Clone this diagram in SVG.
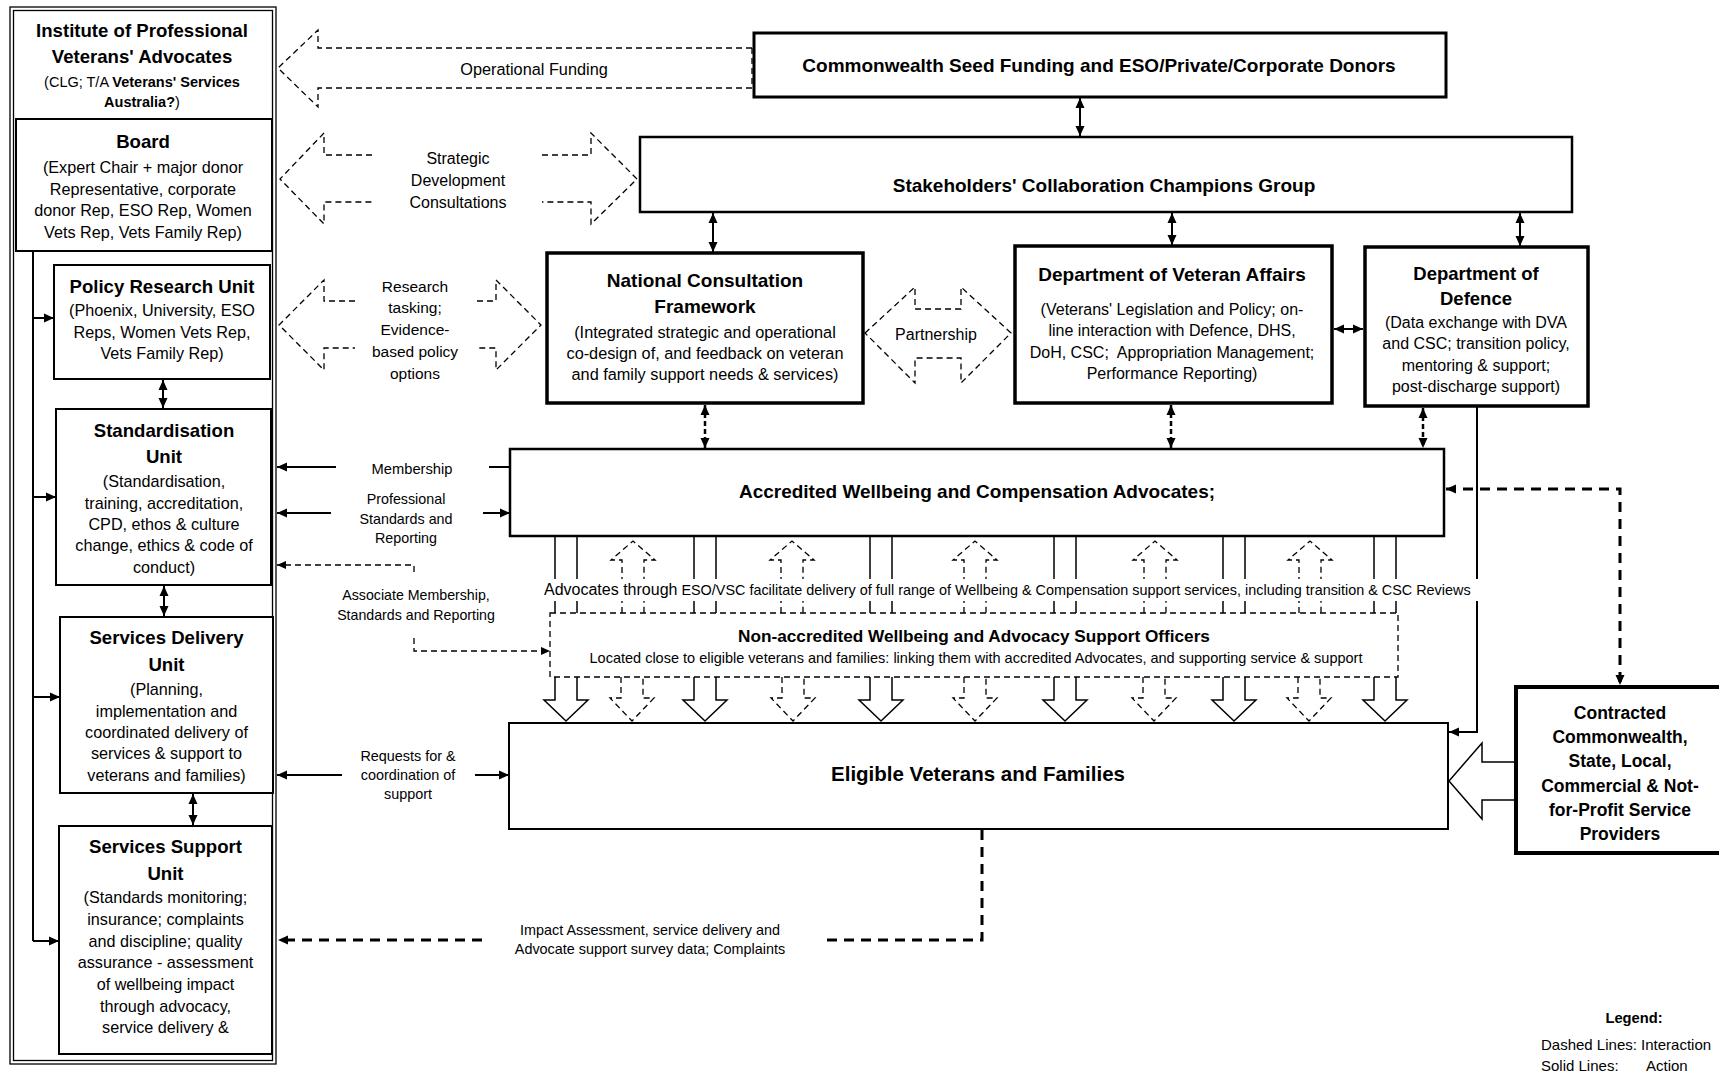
<svg xmlns="http://www.w3.org/2000/svg" width="1719" height="1075" viewBox="0 0 1719 1075">
<defs>
<marker id="a" viewBox="0 0 10 10" refX="10" refY="5" markerWidth="10" markerHeight="10" markerUnits="userSpaceOnUse" orient="auto-start-reverse"><path d="M0,0.5 L10,5 L0,9.5 z" fill="#000"/></marker>
<marker id="as" viewBox="0 0 10 10" refX="10" refY="5" markerWidth="9" markerHeight="9" markerUnits="userSpaceOnUse" orient="auto-start-reverse"><path d="M0,0.5 L10,5 L0,9.5 z" fill="#000"/></marker>
<style>
.t{font-family:"Liberation Sans",Arial,sans-serif;fill:#000}
.b{font-weight:bold}
.c{text-anchor:middle}
.box{fill:#fff;stroke:#000}
.ln{stroke:#000;stroke-width:2;fill:none}
.th{stroke:#000;stroke-width:1.5;fill:none}
.hd{stroke:#000;stroke-width:1.3;stroke-dasharray:6 4;fill:none}
.hdw{stroke:#000;stroke-width:1.3;stroke-dasharray:6 4;fill:#fff}
.dk{stroke:#000;stroke-width:3;stroke-dasharray:10 7;fill:none}
.dm{stroke:#000;stroke-width:2.5;stroke-dasharray:5 3;fill:none}
.ha{stroke:#000;stroke-width:1.5;fill:#fff}
</style>
</defs>
<rect width="1719" height="1075" fill="#fff"/>

<g id="connectors">
  <!-- left column internal -->
  <path class="ln" d="M33,251 V941" stroke-width="2.5"/>
  <line class="ln" x1="33" y1="318" x2="54" y2="318" marker-end="url(#a)"/>
  <line class="ln" x1="33" y1="497" x2="56" y2="497" marker-end="url(#a)"/>
  <line class="ln" x1="33" y1="697" x2="60" y2="697" marker-end="url(#a)"/>
  <line class="ln" x1="33" y1="941" x2="59" y2="941" marker-end="url(#a)"/>
  <line class="ln" x1="163" y1="380" x2="163" y2="408" marker-start="url(#a)" marker-end="url(#a)"/>
  <line class="ln" x1="164" y1="586" x2="164" y2="616" marker-start="url(#a)" marker-end="url(#a)"/>
  <line class="ln" x1="193" y1="794" x2="193" y2="825" marker-start="url(#a)" marker-end="url(#a)"/>

  <!-- hollow dashed arrows -->
  <path class="hd" d="M752,48 H318 V30 L278,68 L318,107 V88 H752 Z"/>
  <path class="hd" d="M372,155 H324 V133 L280,179 L324,224 V202 H372"/>
  <path class="hd" d="M542,155 H591 V133 L637,179 L591,224 V202 H542"/>
  <path class="hd" d="M355,301 H324 V280 L279,325 L324,370 V348 H355"/>
  <path class="hd" d="M477,301 H496 V280 L541,325 L496,370 V348 H477"/>
  <path class="hd" d="M865,333 L915,287 V309 H961 V287 L1011,333 L961,383 V358 H915 V383 Z"/>

  <!-- top solid double arrows -->
  <line class="ln" x1="1080" y1="98" x2="1080" y2="136" marker-start="url(#a)" marker-end="url(#a)"/>
  <line class="ln" x1="713" y1="213" x2="713" y2="252" marker-start="url(#a)" marker-end="url(#a)"/>
  <line class="ln" x1="1172" y1="213" x2="1172" y2="245" marker-start="url(#a)" marker-end="url(#a)"/>
  <line class="ln" x1="1520" y1="213" x2="1520" y2="246" marker-start="url(#a)" marker-end="url(#a)"/>
  <line class="ln" x1="1334" y1="329" x2="1363" y2="329" stroke-width="2.5" marker-start="url(#a)" marker-end="url(#a)"/>

  <!-- dashed double arrows to Accredited -->
  <line class="dm" x1="705" y1="405" x2="705" y2="448" marker-start="url(#a)" marker-end="url(#a)"/>
  <line class="dm" x1="1171" y1="405" x2="1171" y2="448" marker-start="url(#a)" marker-end="url(#a)"/>
  <line class="dm" x1="1423" y1="408" x2="1423" y2="448" marker-start="url(#a)" marker-end="url(#a)"/>

  <!-- Membership / standards -->
  <line class="ln" x1="489" y1="467" x2="510" y2="467"/>
  <line class="ln" x1="336" y1="467" x2="277" y2="467" marker-end="url(#a)"/>
  <line class="ln" x1="331" y1="513" x2="277" y2="513" marker-end="url(#a)"/>
  <line class="ln" x1="483" y1="513" x2="510" y2="513" marker-end="url(#a)"/>
  <path class="hd" d="M414,572 V565 H277" marker-end="url(#as)"/>
  <path class="hd" d="M414,638 V651 H550" marker-end="url(#as)"/>

  <!-- solid pair lines between Accredited and Non-accredited -->
  <g class="th">
    <line x1="555" y1="536" x2="555" y2="613"/><line x1="577" y1="536" x2="577" y2="613"/>
    <line x1="694" y1="536" x2="694" y2="613"/><line x1="716" y1="536" x2="716" y2="613"/>
    <line x1="870" y1="536" x2="870" y2="613"/><line x1="892" y1="536" x2="892" y2="613"/>
    <line x1="1054" y1="536" x2="1054" y2="613"/><line x1="1076" y1="536" x2="1076" y2="613"/>
    <line x1="1223" y1="536" x2="1223" y2="613"/><line x1="1245" y1="536" x2="1245" y2="613"/>
    <line x1="1374" y1="536" x2="1374" y2="613"/><line x1="1396" y1="536" x2="1396" y2="613"/>
  </g>
  <!-- dashed hollow up arrows -->
  <path class="hd" d="M622,613 V560 H611 L633,541 L655,560 H644 V613"/>
  <path class="hd" d="M781,613 V560 H770 L792,541 L814,560 H803 V613"/>
  <path class="hd" d="M964,613 V560 H953 L975,541 L997,560 H986 V613"/>
  <path class="hd" d="M1144,613 V560 H1133 L1155,541 L1177,560 H1166 V613"/>
  <path class="hd" d="M1299,613 V560 H1288 L1310,541 L1332,560 H1321 V613"/>

  <!-- Defence solid line to Eligible -->
  <path class="ln" d="M1477,406 V732 H1449" marker-end="url(#a)"/>
  <!-- Accredited <-> Contracted dashed -->
  <path class="dk" d="M1446,489 H1620 V685" marker-start="url(#a)" marker-end="url(#a)"/>

  <!-- solid hollow down arrows -->
  <path class="ha" d="M555,677 V700 H544 L566,721 L588,700 H577 V677"/>
  <path class="ha" d="M694,677 V700 H683 L705,721 L727,700 H716 V677"/>
  <path class="ha" d="M870,677 V700 H859 L881,721 L903,700 H892 V677"/>
  <path class="ha" d="M1054,677 V700 H1043 L1065,721 L1087,700 H1076 V677"/>
  <path class="ha" d="M1223,677 V700 H1212 L1234,721 L1256,700 H1245 V677"/>
  <path class="ha" d="M1374,677 V700 H1363 L1385,721 L1407,700 H1396 V677"/>
  <!-- dashed hollow down arrows -->
  <path class="hd" d="M621,677 V698 H610 L632,721 L654,698 H643 V677"/>
  <path class="hd" d="M782,677 V698 H771 L793,721 L815,698 H804 V677"/>
  <path class="hd" d="M964,677 V698 H953 L975,721 L997,698 H986 V677"/>
  <path class="hd" d="M1143,677 V698 H1132 L1154,721 L1176,698 H1165 V677"/>
  <path class="hd" d="M1298,677 V698 H1287 L1309,721 L1331,698 H1320 V677"/>

  <!-- Requests -->
  <line class="ln" x1="342" y1="775" x2="277" y2="775" marker-end="url(#a)"/>
  <line class="ln" x1="475" y1="775" x2="509" y2="775" marker-end="url(#a)"/>
  <!-- Impact -->
  <path class="dk" d="M982,830 V940 H824"/>
  <path class="dk" d="M482,940 H278" marker-end="url(#a)"/>

  <!-- Contracted -> Eligible hollow arrow -->
  <path class="ha" d="M1516,762 H1482 V743 L1449,781 L1482,819 V800 H1516"/>
</g>

<g id="node-frame">
  <rect x="10" y="7" width="266" height="1057" fill="none" stroke="#000" stroke-width="1.3"/>
  <rect x="13.5" y="10.5" width="259" height="1050" fill="none" stroke="#000" stroke-width="1.3"/>
</g>
<g id="node-institute" class="t c">
  <text x="142" y="37" class="b" font-size="18.6">Institute of Professional</text>
  <text x="142" y="63" class="b" font-size="18.6">Veterans' Advocates</text>
  <text x="142" y="87" font-size="14.5">(CLG; T/A <tspan class="b">Veterans' Services</tspan></text>
  <text x="142" y="107" font-size="14.5"><tspan class="b">Australia?</tspan>)</text>
</g>
<g id="node-board">
  <rect class="box" x="16" y="119" width="256" height="132" stroke-width="2"/>
  <g class="t c">
    <text x="143" y="148" class="b" font-size="18.6">Board</text>
    <text x="143" y="173" font-size="16.2">(Expert Chair + major donor</text>
    <text x="143" y="194.5" font-size="16.2">Representative, corporate</text>
    <text x="143" y="216" font-size="16.2">donor Rep, ESO Rep, Women</text>
    <text x="143" y="237.5" font-size="16.2">Vets Rep, Vets Family Rep)</text>
  </g>
</g>
<g id="node-policy">
  <rect class="box" x="54" y="265" width="216" height="114" stroke-width="2"/>
  <g class="t c">
    <text x="162" y="293" class="b" font-size="18.6">Policy Research Unit</text>
    <text x="162" y="316" font-size="16.2">(Phoenix, University, ESO</text>
    <text x="162" y="338" font-size="16.2">Reps, Women Vets Rep,</text>
    <text x="162" y="359" font-size="16.2">Vets Family Rep)</text>
  </g>
</g>
<g id="node-standardisation">
  <rect class="box" x="56" y="409" width="215" height="176" stroke-width="2"/>
  <g class="t c">
    <text x="164" y="437" class="b" font-size="18.6">Standardisation</text>
    <text x="164" y="463" class="b" font-size="18.6">Unit</text>
    <text x="164" y="487" font-size="16.2">(Standardisation,</text>
    <text x="164" y="509" font-size="16.2">training, accreditation,</text>
    <text x="164" y="530" font-size="16.2">CPD, ethos &amp; culture</text>
    <text x="164" y="551" font-size="16.2">change, ethics &amp; code of</text>
    <text x="164" y="573" font-size="16.2">conduct)</text>
  </g>
</g>
<g id="node-delivery">
  <rect class="box" x="60" y="617" width="213" height="176" stroke-width="2"/>
  <g class="t c">
    <text x="166.5" y="644" class="b" font-size="18.6">Services Delivery</text>
    <text x="166.5" y="671" class="b" font-size="18.6">Unit</text>
    <text x="166.5" y="695" font-size="16.2">(Planning,</text>
    <text x="166.5" y="717" font-size="16.2">implementation and</text>
    <text x="166.5" y="738" font-size="16.2">coordinated delivery of</text>
    <text x="166.5" y="759" font-size="16.2">services &amp; support to</text>
    <text x="166.5" y="781" font-size="16.2">veterans and families)</text>
  </g>
</g>
<g id="node-support">
  <rect class="box" x="59" y="826" width="213" height="228" stroke-width="2"/>
  <g class="t c">
    <text x="165.5" y="853" class="b" font-size="18.6">Services Support</text>
    <text x="165.5" y="880" class="b" font-size="18.6">Unit</text>
    <text x="165.5" y="903" font-size="16.2">(Standards monitoring;</text>
    <text x="165.5" y="925" font-size="16.2">insurance; complaints</text>
    <text x="165.5" y="947" font-size="16.2">and discipline; quality</text>
    <text x="165.5" y="968" font-size="16.2">assurance - assessment</text>
    <text x="165.5" y="990" font-size="16.2">of wellbeing impact</text>
    <text x="165.5" y="1012" font-size="16.2">through advocacy,</text>
    <text x="165.5" y="1033" font-size="16.2">service delivery &amp;</text>
  </g>
</g>

<g id="node-commonwealth">
  <rect class="box" x="754" y="33" width="692" height="64" stroke-width="3"/>
  <text x="1099" y="72" class="t c b" font-size="19">Commonwealth Seed Funding and ESO/Private/Corporate Donors</text>
</g>
<g id="node-stakeholders">
  <rect class="box" x="640" y="137" width="932" height="75" stroke-width="2.5"/>
  <text x="1104" y="192" class="t c b" font-size="19">Stakeholders' Collaboration Champions Group</text>
</g>
<g id="node-ncf">
  <rect class="box" x="547" y="253" width="316" height="150" stroke-width="3.5"/>
  <g class="t c">
    <text x="705" y="287" class="b" font-size="19">National Consultation</text>
    <text x="705" y="313" class="b" font-size="19">Framework</text>
    <text x="705" y="338" font-size="16.3">(Integrated strategic and operational</text>
    <text x="705" y="359" font-size="16.3">co-design of, and feedback on veteran</text>
    <text x="705" y="380" font-size="16.3">and family support needs &amp; services)</text>
  </g>
</g>
<g id="node-dva">
  <rect class="box" x="1015" y="246" width="317" height="157" stroke-width="3.5"/>
  <g class="t c">
    <text x="1172" y="281" class="b" font-size="19">Department of Veteran Affairs</text>
    <text x="1172" y="315" font-size="16">(Veterans' Legislation and Policy; on-</text>
    <text x="1172" y="336" font-size="16">line interaction with Defence, DHS,</text>
    <text x="1172" y="358" font-size="16" xml:space="preserve">DoH, CSC;  Appropriation Management;</text>
    <text x="1172" y="379" font-size="16">Performance Reporting)</text>
  </g>
</g>
<g id="node-defence">
  <rect class="box" x="1365" y="247" width="223" height="159" stroke-width="3.5"/>
  <g class="t c">
    <text x="1476" y="280" class="b" font-size="18.5">Department of</text>
    <text x="1476" y="305" class="b" font-size="18.5">Defence</text>
    <text x="1476" y="328" font-size="16">(Data exchange with DVA</text>
    <text x="1476" y="349" font-size="16">and CSC; transition policy,</text>
    <text x="1476" y="371" font-size="16">mentoring &amp; support;</text>
    <text x="1476" y="392" font-size="16">post-discharge support)</text>
  </g>
</g>
<g id="node-accredited">
  <rect class="box" x="510" y="449" width="934" height="87" stroke-width="2.5"/>
  <text x="977" y="498" class="t c b" font-size="19">Accredited Wellbeing and Compensation Advocates;</text>
</g>
<g id="label-advocates-through">
  <rect x="540" y="579" width="942" height="22" fill="#fff"/>
  <text x="544" y="595" class="t"><tspan font-size="16">Advocates through</tspan><tspan font-size="14.4"> ESO/VSC facilitate delivery of full range of Wellbeing &amp; Compensation support services, including transition &amp; CSC Reviews</tspan></text>
</g>
<g id="node-nonaccredited">
  <rect class="hd" x="550" y="613" width="848" height="64"/>
  <text x="974" y="642" class="t c b" font-size="17.2">Non-accredited Wellbeing and Advocacy Support Officers</text>
  <text x="976" y="663" class="t c" font-size="14.5">Located close to eligible veterans and families: linking them with accredited Advocates, and supporting service &amp; support</text>
</g>
<g id="node-eligible">
  <rect class="box" x="509" y="723" width="939" height="106" stroke-width="2"/>
  <text x="978" y="781" class="t c b" font-size="20.5">Eligible Veterans and Families</text>
</g>
<g id="node-contracted">
  <rect class="box" x="1516" y="687" width="230" height="166" stroke-width="4"/>
  <g class="t c b" font-size="17.5">
    <text x="1620" y="719">Contracted</text>
    <text x="1620" y="743">Commonwealth,</text>
    <text x="1620" y="767">State, Local,</text>
    <text x="1620" y="792">Commercial &amp; Not-</text>
    <text x="1620" y="816">for-Profit Service</text>
    <text x="1620" y="840">Providers</text>
  </g>
</g>

<g id="labels" class="t c">
  <text x="534" y="75" font-size="16.3">Operational Funding</text>
  <text x="458" y="164" font-size="16">Strategic</text>
  <text x="458" y="186" font-size="16">Development</text>
  <text x="458" y="208" font-size="16">Consultations</text>
  <text x="415" y="291.5" font-size="15.5">Research</text>
  <text x="415" y="313" font-size="15.5">tasking;</text>
  <text x="415" y="335" font-size="15.5">Evidence-</text>
  <text x="415" y="356.5" font-size="15.5">based policy</text>
  <text x="415" y="378.5" font-size="15.5">options</text>
  <text x="936" y="340" font-size="16">Partnership</text>
  <text x="412" y="474" font-size="14.7">Membership</text>
  <text x="406" y="504" font-size="14.3">Professional</text>
  <text x="406" y="524" font-size="14.3">Standards and</text>
  <text x="406" y="543" font-size="14.3">Reporting</text>
  <text x="416" y="600" font-size="14.2">Associate Membership,</text>
  <text x="416" y="620" font-size="14.2">Standards and Reporting</text>
  <text x="408" y="761" font-size="14.4">Requests for &amp;</text>
  <text x="408" y="780" font-size="14.4">coordination of</text>
  <text x="408" y="799" font-size="14.4">support</text>
  <text x="650" y="935" font-size="14.4">Impact Assessment, service delivery and</text>
  <text x="650" y="954" font-size="14.4">Advocate support survey data; Complaints</text>
</g>

<g id="legend" class="t">
  <text x="1634" y="1023" class="c b" font-size="14.7">Legend:</text>
  <text x="1541" y="1050" font-size="15">Dashed Lines: Interaction</text>
  <text x="1541" y="1071" font-size="15">Solid Lines:</text>
  <text x="1646" y="1071" font-size="15">Action</text>
</g>
</svg>
